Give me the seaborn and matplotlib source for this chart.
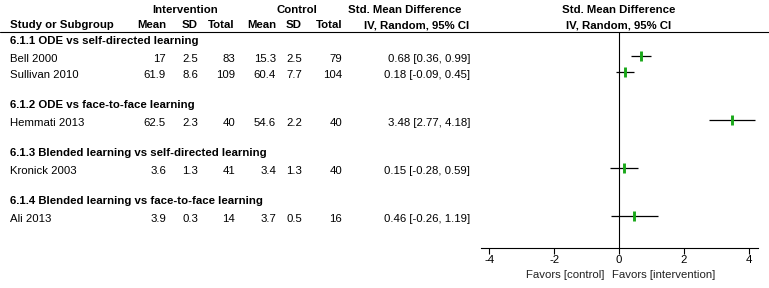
import seaborn as sns
import matplotlib.pyplot as plt
import pandas as pd

studies = ["Bell 2000", "Sullivan 2010", "Hemmati 2013", "Kronick 2003", "Ali 2013"]
subgroups = ["6.1.1 ODE vs self-directed learning",
             "6.1.2 ODE vs face-to-face learning",
             "6.1.3 Blended learning vs self-directed learning",
             "6.1.4 Blended learning vs face-to-face learning"]
study_group = [0, 0, 1, 2, 3]
int_mean = [17, 61.9, 62.5, 3.6, 3.9]
int_sd = [2.5, 8.6, 2.3, 1.3, 0.3]
int_total = [83, 109, 40, 41, 14]
ctl_mean = [15.3, 60.4, 54.6, 3.4, 3.7]
ctl_sd = [2.5, 7.7, 2.2, 1.3, 0.5]
ctl_total = [79, 104, 40, 40, 16]
smd = [0.68, 0.18, 3.48, 0.15, 0.46]
ci_low = [0.36, -0.09, 2.77, -0.28, -0.26]
ci_high = [0.99, 0.45, 4.18, 0.59, 1.19]
ticks = [-4, -2, 0, 2, 4]

sns.set_theme(style="white")
plt.rcParams["font.family"] = ["Liberation Sans", "DejaVu Sans"]
plt.rcParams["text.color"] = "black"
plt.rcParams["xtick.color"] = "black"
plt.rcParams["xtick.labelcolor"] = "black"

# row layout in pixels (figure is 769 x 288)
row_h = 16
y0 = 40
rows_y = []
group_y = []
r = 0
for g in range(len(subgroups)):
    group_y.append(y0 + r * row_h)
    r += 1
    for i, sg in enumerate(study_group):
        if sg == g:
            rows_y.append(y0 + r * row_h)
            r += 1
    r += 1

df = pd.DataFrame({"study": studies, "smd": smd, "lo": ci_low, "hi": ci_high, "y": rows_y})

fig = plt.figure(figsize=(7.69, 2.88), dpi=100)
tx = fig.add_axes([0, 0, 1, 1])
tx.set_xlim(0, 769)
tx.set_ylim(288, 0)
tx.axis("off")

fs = 8.2
# headers
tx.text(185, 13, "Intervention", ha="center", fontsize=fs, fontweight="bold")
tx.text(297, 13, "Control", ha="center", fontsize=fs, fontweight="bold")
tx.text(405, 13, "Std. Mean Difference", ha="center", fontsize=fs, fontweight="bold")
tx.text(619, 13, "Std. Mean Difference", ha="center", fontsize=fs, fontweight="bold")
tx.text(10, 28, "Study or Subgroup", ha="left", fontsize=fs, fontweight="bold")
cols = [("Mean", 166), ("SD", 198), ("Total", 235), ("Mean", 276), ("SD", 302), ("Total", 342)]
for lab, xr in cols:
    tx.text(xr, 28, lab, ha="right", fontsize=fs, fontweight="bold")
tx.text(417, 28, "IV, Random, 95% CI", ha="center", fontsize=fs, fontweight="bold")
tx.text(619, 28, "IV, Random, 95% CI", ha="center", fontsize=fs, fontweight="bold")
tx.plot([0, 769], [32, 32], color="black", lw=0.8)

for g, gy in enumerate(group_y):
    tx.text(10, gy + 4, subgroups[g], ha="left", fontsize=fs, fontweight="bold")

for i in range(len(studies)):
    by = rows_y[i] + 6
    tx.text(10, by, studies[i], ha="left", fontsize=fs)
    vals = [int_mean[i], int_sd[i], int_total[i], ctl_mean[i], ctl_sd[i], ctl_total[i]]
    for (lab, xr), v in zip(cols, vals):
        tx.text(xr, by, f"{v:g}", ha="right", fontsize=fs)
    tx.text(470, by, f"{smd[i]:.2f} [{ci_low[i]:.2f}, {ci_high[i]:.2f}]", ha="right", fontsize=fs)

# forest panel
ax = fig.add_axes([481 / 769, (288 - 248) / 288, 277 / 769, (248 - 32) / 288])
ax.set_facecolor("none")
ax.hlines(df["y"], df["lo"], df["hi"], color="black", lw=0.9)
sns.scatterplot(data=df, x="smd", y="y", marker="|", s=42, linewidth=2.1,
                color="#1aa81a", ax=ax, zorder=3)
ax.axvline(0, color="black", lw=0.8)
ax.set_xlim(-4.25, 4.28)
ax.set_ylim(248, 32)
ax.set_xticks(ticks)
ax.set_xticklabels([str(t) for t in ticks], fontsize=fs)
ax.set_yticks([])
ax.set(xlabel="", ylabel="")
for s in ["top", "left", "right"]:
    ax.spines[s].set_visible(False)
ax.spines["bottom"].set_color("black")
ax.spines["bottom"].set_linewidth(0.8)
ax.tick_params(axis="x", direction="out", length=4, width=0.8, color="black", pad=1, bottom=True)

tx.text(604, 278, "Favors [control]", ha="right", fontsize=fs, color="#222222")
tx.text(612, 278, "Favors [intervention]", ha="left", fontsize=fs, color="#222222")

plt.savefig("out.png", dpi=100)
